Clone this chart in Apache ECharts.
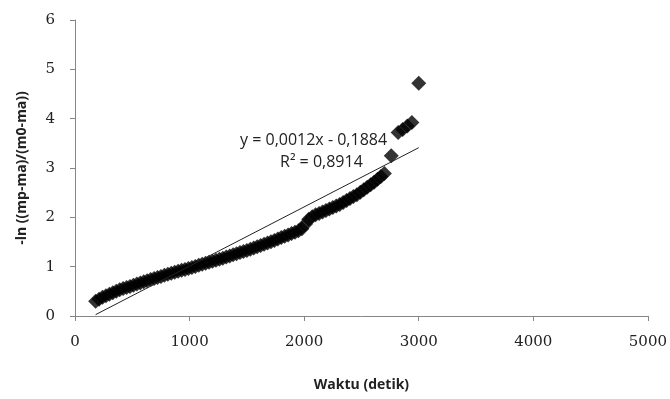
<!DOCTYPE html>
<html><head><meta charset="utf-8">
<script src="https://cdn.jsdelivr.net/npm/echarts@6/dist/echarts.min.js"></script>
<style>html,body{margin:0;padding:0;background:#fff}#c{width:670px;height:399px}</style>
</head><body><div id="c"></div>
<script>
var timeX = [180,210,240,270,300,330,360,390,420,450,480,510,540,570,600,630,660,690,720,750,780,810,840,870,900,930,960,990,1020,1050,1080,1110,1140,1170,1200,1230,1260,1290,1320,1350,1380,1410,1440,1470,1500,1530,1560,1590,1620,1650,1680,1710,1740,1770,1800,1830,1860,1890,1920,1950,1980,2010,2040,2070,2100,2130,2160,2190,2220,2250,2280,2310,2340,2370,2400,2430,2460,2490,2520,2550,2580,2610,2640,2670,2700,2760,2820,2860,2900,2940,3000];
var lnY = [0.30,0.34,0.38,0.41,0.44,0.47,0.50,0.53,0.555,0.58,0.60,0.625,0.65,0.67,0.695,0.715,0.74,0.76,0.78,0.80,0.825,0.845,0.865,0.885,0.905,0.925,0.945,0.965,0.985,1.005,1.03,1.05,1.07,1.09,1.11,1.13,1.15,1.17,1.195,1.215,1.24,1.26,1.285,1.305,1.33,1.355,1.38,1.405,1.43,1.455,1.48,1.505,1.53,1.56,1.59,1.615,1.64,1.67,1.70,1.73,1.77,1.86,1.96,2.01,2.05,2.08,2.11,2.14,2.17,2.20,2.23,2.26,2.30,2.34,2.38,2.42,2.46,2.51,2.56,2.61,2.66,2.71,2.77,2.83,2.89,3.25,3.72,3.78,3.85,3.92,4.72];
var trendSlope = 0.0012, trendIntercept = -0.1884;
var eqText = ['y = 0,0012x - 0,1884', 'R\u00b2 = 0,8914'];
var xTicks = [0,1000,2000,3000,4000,5000];
var yTicks = [0,1,2,3,4,5,6];

var pts = timeX.map(function(x,i){return [x, lnY[i]];});
var xmin = Math.min.apply(null,timeX), xmax = Math.max.apply(null,timeX);
var trend = [[xmin, trendSlope*xmin+trendIntercept],[xmax, trendSlope*xmax+trendIntercept]];

var chart = echarts.init(document.getElementById('c'), null, {renderer:'canvas'});
var axisLine = {lineStyle:{color:'#868686', width:1}};
var labelFont = {fontFamily:'DejaVu Serif', fontSize:15, color:'#222', formatter:function(v){return String(v);}};
chart.setOption({
  animation:false,
  grid:{left:75, right:20, top:20, bottom:83},
  xAxis:{type:'value', min:xTicks[0], max:xTicks[xTicks.length-1], interval:1000,
    axisLine:axisLine, axisTick:{show:true, length:5, lineStyle:{color:'#868686'}},
    splitLine:{show:false},
    axisLabel:Object.assign({margin:19}, labelFont),
    name:'Waktu (detik)', nameLocation:'middle', nameGap:62,
    nameTextStyle:{fontFamily:'Open Sans', fontWeight:'bold', fontSize:14, color:'#222'}},
  yAxis:{type:'value', min:yTicks[0], max:yTicks[yTicks.length-1], interval:1,
    axisLine:Object.assign({show:true}, axisLine), axisTick:{show:true, length:5, lineStyle:{color:'#868686'}},
    splitLine:{show:false},
    axisLabel:Object.assign({margin:20}, labelFont),
    name:'-ln ((mp-ma)/(m0-ma))', nameLocation:'middle', nameGap:46, nameRotate:90,
    nameTextStyle:{fontFamily:'Open Sans', fontWeight:'bold', fontSize:14, color:'#222'}},
  series:[
    {type:'line', data:trend, symbol:'none', lineStyle:{color:'#222', width:1}, z:3, silent:true},
    {type:'scatter', data:pts, symbol:'diamond', symbolSize:15, itemStyle:{color:'#000'}, z:2}
  ],
  graphic:[
    {type:'text', left:240, top:132, style:{text:eqText[0], font:'16px "Open Sans"', fill:'#222'}},
    {type:'text', left:280, top:154, style:{text:eqText[1], font:'16px "Open Sans"', fill:'#222'}}
  ]
});
</script></body></html>
